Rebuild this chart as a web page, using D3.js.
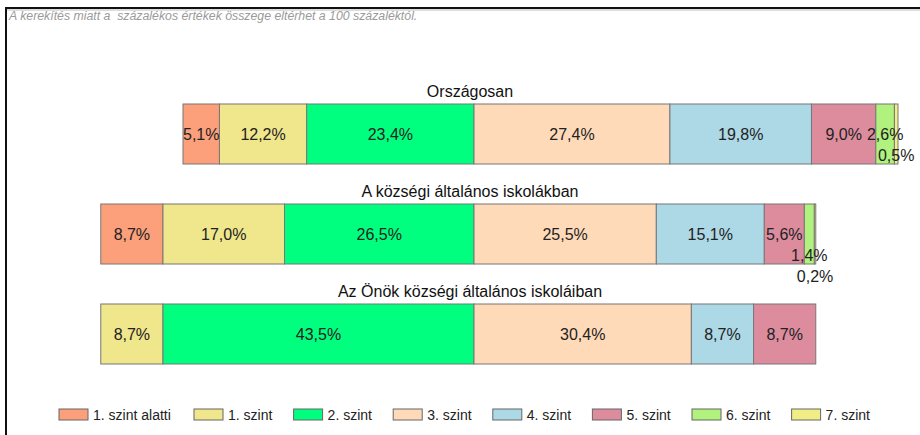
<!DOCTYPE html>
<html>
<head>
<meta charset="utf-8">
<script src="https://cdn.jsdelivr.net/npm/d3@7"></script>
<style>
  body { margin: 0; background: #fff; }
  svg { font-family: "Liberation Sans", Arial, sans-serif; display: block; }
</style>
</head>
<body>
<div id="chart"></div>
<script>
// Data
const levels = ["1. szint alatti", "1. szint", "2. szint", "3. szint", "4. szint", "5. szint", "6. szint", "7. szint"];
const levelColors = ["#FC9F7B", "#F0E68C", "#00FF7F", "#FFDAB9", "#ADD8E6", "#DD8C9E", "#B0F27D", "#F2EE86"];
const rows = ["Országosan", "A községi általános iskolákban", "Az Önök községi általános iskoláiban"];
const orszagos = [5.1, 12.2, 23.4, 27.4, 19.8, 9.0, 2.6, 0.5];
const kozsegi = [8.7, 17.0, 26.5, 25.5, 15.1, 5.6, 1.4, 0.2];
const onok = [0, 8.7, 43.5, 30.4, 8.7, 8.7, 0, 0];
const rowValues = [orszagos, kozsegi, onok];
const note = "A kerekítés miatt a  százalékos értékek összege eltérhet a 100 százaléktól.";

const width = 920, height = 435;
const svg = d3.select('#chart').append('svg')
  .attr('width', width)
  .attr('height', height);

// frame (top + left edge only, cropped screenshot)
svg.append('line').attr('x1', 5).attr('x2', width).attr('y1', 8).attr('y2', 8)
  .attr('stroke', '#111').attr('stroke-width', 2);
svg.append('line').attr('x1', 5).attr('x2', width).attr('y1', 10).attr('y2', 10)
  .attr('stroke', '#bbb').attr('stroke-width', 1);
svg.append('line').attr('x1', 6).attr('x2', 6).attr('y1', 7).attr('y2', height)
  .attr('stroke', '#111').attr('stroke-width', 2);

svg.append('text')
  .attr('x', 9).attr('y', 20)
  .attr('font-size', 12.3).attr('font-style', 'italic')
  .attr('fill', '#9a9a9a')
  .style('white-space', 'pre')
  .text(note);

// diverging scale: 0 sits at the 2. / 3. szint boundary
const x = d3.scaleLinear().domain([0, 60]).range([474, 474 + 60 * 7.15]);
const y = d3.scaleBand().domain(rows).range([84, 384]).paddingInner(0.4).paddingOuter(0.2);

const fmt = v => d3.format('.1f')(v).replace('.', ',') + '%';

rows.forEach((r, ri) => {
  const vals = rowValues[ri];
  const leftSum = d3.sum(vals.slice(0, 3));
  let acc = -leftSum;
  const segs = vals.map((v, i) => {
    const s = { v, i, x0: acc, x1: acc + v };
    acc += v;
    return s;
  }).filter(s => s.v > 0);

  const g = svg.append('g');
  const by = y(r), bh = y.bandwidth();

  g.append('text')
    .attr('x', 470).attr('y', by - 7)
    .attr('text-anchor', 'middle')
    .attr('font-size', 16).attr('fill', '#111')
    .text(r);

  g.selectAll('rect').data(segs).join('rect')
    .attr('x', d => x(d.x0))
    .attr('y', by)
    .attr('width', d => x(d.x1) - x(d.x0))
    .attr('height', bh)
    .attr('fill', d => levelColors[d.i])
    .attr('stroke', '#777')
    .attr('stroke-width', 1);

  // labels, shifted down when they would collide with the previous one
  let prevRight = -Infinity, shift = 0;
  segs.forEach(d => {
    const cx = (x(d.x0) + x(d.x1)) / 2;
    const t = g.append('text')
      .attr('x', cx)
      .attr('text-anchor', 'middle')
      .attr('font-size', 16).attr('fill', '#222')
      .text(fmt(d.v));
    const w = t.node().getComputedTextLength();
    if (cx - w / 2 < prevRight) shift += 21; else shift = 0;
    t.attr('y', by + bh / 2 + 6 + shift);
    prevRight = cx + w / 2;
  });
});

// legend: first entry is wider, the rest sit on a ~100px step
const legend = svg.append('g').attr('transform', 'translate(59,409)');
let lx = 0;
levels.forEach((l, i) => {
  const item = legend.append('g').attr('transform', `translate(${lx},0)`);
  item.append('rect')
    .attr('width', 29).attr('height', 11)
    .attr('fill', levelColors[i])
    .attr('stroke', '#666').attr('stroke-width', 1);
  item.append('text')
    .attr('x', 34).attr('y', 11)
    .attr('font-size', 14).attr('fill', '#222')
    .text(l);
  lx += i === 0 ? 135 : 99.6;
});
</script>
</body>
</html>
